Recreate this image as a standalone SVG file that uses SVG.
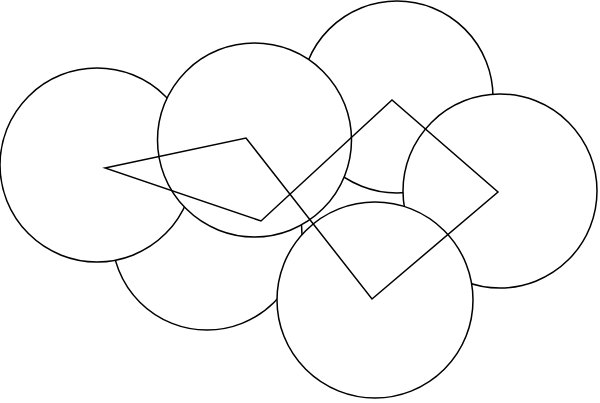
<svg xmlns="http://www.w3.org/2000/svg" width="600" height="403" viewBox="0 0 600 403">
<style>
.c{fill:#ffffff;stroke:#000000;stroke-width:1.5}
.p{fill:none;stroke:#000000;stroke-width:1.5;stroke-linejoin:miter}
</style>
<rect width="600" height="403" fill="#ffffff"/>
<g id="circle-lower-left"><circle class="c" cx="207" cy="235" r="95"/></g>
<g id="circle-left"><circle class="c" cx="97" cy="165" r="97"/></g>
<g id="circle-top-right"><circle class="c" cx="397" cy="97" r="96"/></g>
<g id="circle-center"><circle class="c" cx="254.5" cy="140" r="97"/></g>
<g id="circle-right"><circle class="c" cx="500" cy="191" r="97"/></g>
<g id="circle-bottom"><circle class="c" cx="375" cy="300" r="98"/></g>
<g id="connectors"><polygon class="p" points="105,168 246,138 372,299 498,192 392,100 261,221"/></g>
</svg>
